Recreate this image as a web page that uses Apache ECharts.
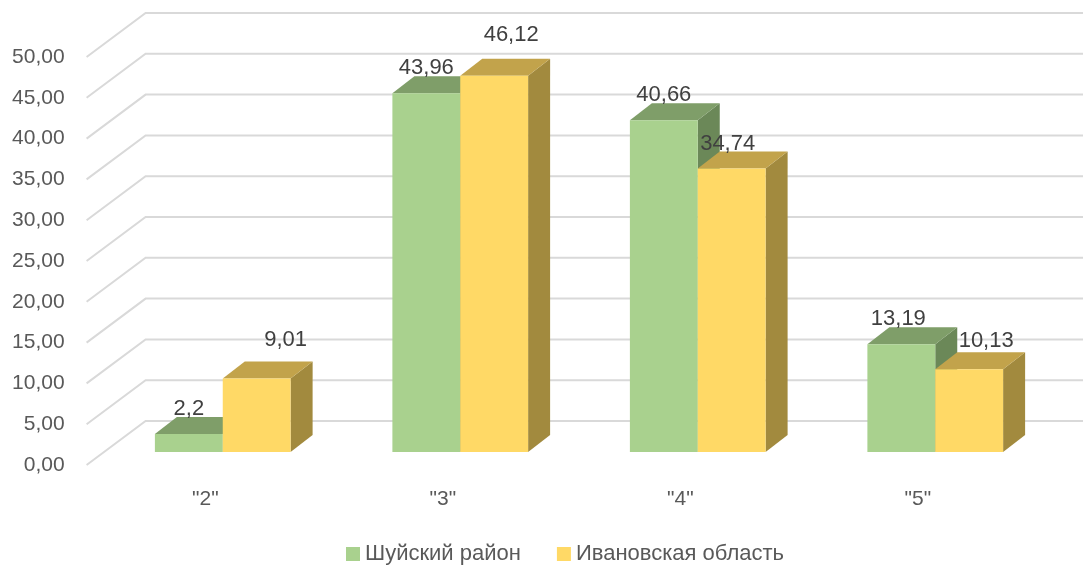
<!DOCTYPE html>
<html>
<head>
<meta charset="utf-8">
<script src="https://cdn.jsdelivr.net/npm/echarts@6/dist/echarts.min.js"></script>
<style>
  html, body { margin: 0; padding: 0; background: #fff; }
  #chart { width: 1083px; height: 567px; }
</style>
</head>
<body>
<div id="chart"></div>
<script>
// data
const categories = ['"2"', '"3"', '"4"', '"5"']
const seriesNames = ["Шуйский район", "Ивановская область"]
const shuyaValues = [2.2, 43.96, 40.66, 13.19]
const ivanovoValues = [9.01, 46.12, 34.74, 10.13]
const yTicks = [0, 5, 10, 15, 20, 25, 30, 35, 40, 45, 50]

// styling
const fontFamily = "'Liberation Sans', Arial, sans-serif"
const depth = [22, -17]            // bar depth offset (x, y)
const floorFront = [-17.4, 13]     // front edge of the floor relative to bar plane
const floorBack = [41.6, -31]      // back wall relative to bar plane
const barRatio = 1 / 3.5           // bar width / category band
const faceColors = [
    { front: "#A9D18E", top: "#7F9E69", side: "#6B8858" },
    { front: "#FFD966", top: "#C2A34B", side: "#A28A3E" },
]
// nudges for data labels that Excel moved off the default spot
const labelShift = [
    [[0, 0], [0, 0], [0, 0], [-3, 0]],
    [[29, -14], [17, -16], [-4, 0], [17, -3]],
]

const fmt = v => String(v).replace(".", ",")

function barRenderer(side) {
    return function (params, api) {
        const idx = api.value(0)
        const val = api.value(1)
        const base = api.coord([idx, 0])
        const top = api.coord([idx, val])
        const bw = api.size([1, 0])[0] * barRatio
        const x0 = side === 0 ? base[0] - bw : base[0]
        const ty = top[1]
        const by = base[1]
        const [dx, dy] = depth
        const c = faceColors[side]
        const shift = labelShift[side][idx]
        return {
            type: "group",
            children: [
                {
                    type: "polygon",
                    shape: { points: [[x0 + bw, ty], [x0 + bw + dx, ty + dy], [x0 + bw + dx, by + dy], [x0 + bw, by]] },
                    style: { fill: c.side },
                },
                {
                    type: "polygon",
                    shape: { points: [[x0, ty], [x0 + dx, ty + dy], [x0 + bw + dx, ty + dy], [x0 + bw, ty]] },
                    style: { fill: c.top },
                },
                {
                    type: "rect",
                    shape: { x: x0, y: ty, width: bw, height: by - ty },
                    style: { fill: c.front },
                },
                {
                    type: "text",
                    z2: 10,
                    style: {
                        text: fmt(val),
                        x: x0 + bw / 2 + shift[0],
                        y: ty - 25 + shift[1],
                        align: "center",
                        verticalAlign: "middle",
                        font: "22px " + fontFamily,
                        fill: "#404040",
                    },
                },
            ],
        }
    }
}

function gridRenderer(params, api) {
    const cs = params.coordSys
    const y = api.coord([0, api.value(1)])[1]
    return {
        type: "polyline",
        shape: {
            points: [
                [cs.x + floorFront[0], y + floorFront[1]],
                [cs.x + floorBack[0], y + floorBack[1]],
                [cs.x + cs.width + floorBack[0], y + floorBack[1]],
            ],
        },
        style: { stroke: "#D9D9D9", lineWidth: 2, fill: null },
    }
}

const chart = echarts.init(document.getElementById("chart"), null, { renderer: "canvas" })

chart.setOption({
    animation: false,
    backgroundColor: "#fff",
    textStyle: { fontFamily },
    grid: [
        // bar plane
        { left: 104, right: 29, top: 44, bottom: 115 },
        // front plane, carries the axis labels
        { left: 86.6, right: 46.4, top: 57, bottom: 102 },
    ],
    xAxis: [
        {
            type: "category",
            gridIndex: 0,
            data: categories,
            axisLine: { show: false },
            axisTick: { show: false },
            axisLabel: { show: false },
            splitLine: { show: false },
        },
        {
            type: "category",
            gridIndex: 1,
            data: categories,
            axisLine: { show: false },
            axisTick: { show: false },
            splitLine: { show: false },
            axisLabel: { margin: 24, fontSize: 21, color: "#595959", fontFamily: "'Liberation Sans Narrow', " + fontFamily },
        },
    ],
    yAxis: [
        {
            type: "value",
            gridIndex: 0,
            min: 0,
            max: 50,
            interval: 5,
            axisLine: { show: false },
            axisTick: { show: false },
            axisLabel: { show: false },
            splitLine: { show: false },
        },
        {
            type: "value",
            gridIndex: 1,
            min: 0,
            max: 50,
            interval: 5,
            axisLine: { show: false },
            axisTick: { show: false },
            splitLine: { show: false },
            axisLabel: {
                margin: 22,
                fontSize: 21,
                color: "#595959",
                formatter: v => v.toFixed(2).replace(".", ","),
            },
        },
    ],
    legend: {
        left: 341,
        top: 538,
        icon: "rect",
        itemWidth: 14,
        itemHeight: 14,
        itemGap: 36,
        textStyle: { fontSize: 22, color: "#595959" },
        data: seriesNames,
    },
    series: [
        {
            type: "custom",
            name: "grid",
            xAxisIndex: 0,
            yAxisIndex: 0,
            z: 1,
            silent: true,
            renderItem: gridRenderer,
            data: yTicks.map(v => [0, v]),
        },
        {
            type: "custom",
            name: seriesNames[0],
            xAxisIndex: 0,
            yAxisIndex: 0,
            z: 2,
            itemStyle: { color: faceColors[0].front },
            renderItem: barRenderer(0),
            data: shuyaValues.map((v, i) => [i, v]),
        },
        {
            type: "custom",
            name: seriesNames[1],
            xAxisIndex: 0,
            yAxisIndex: 0,
            z: 2,
            itemStyle: { color: faceColors[1].front },
            renderItem: barRenderer(1),
            data: ivanovoValues.map((v, i) => [i, v]),
        },
    ],
})
</script>
</body>
</html>
